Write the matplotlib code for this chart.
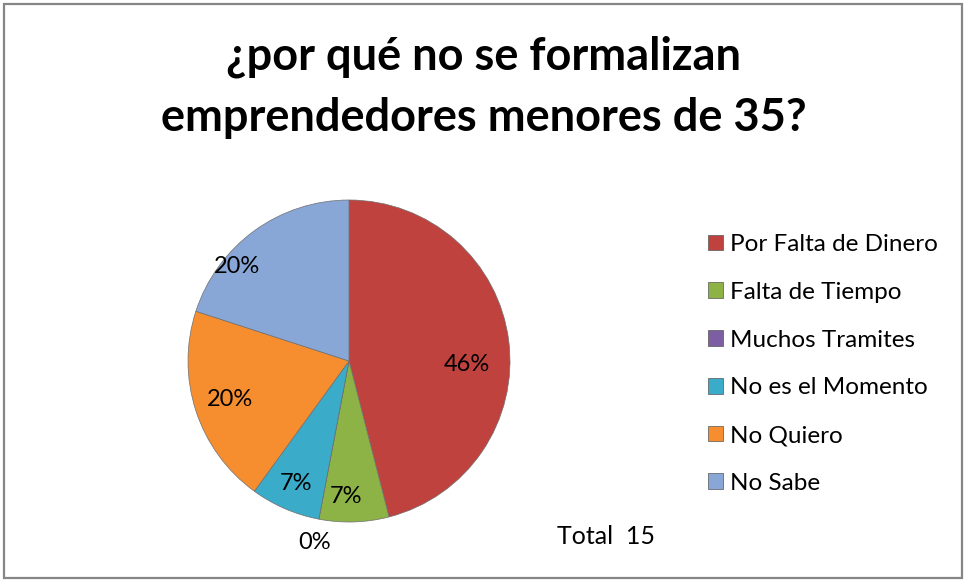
import matplotlib.pyplot as plt
from matplotlib.patches import Rectangle, Patch
import numpy as np

categories = ['Por Falta de Dinero', 'Falta de Tiempo', 'Muchos Tramites',
              'No es el Momento', 'No Quiero', 'No Sabe']
percentages = [46, 7, 0, 7, 20, 20]
total_label = 'Total  15'
title = '¿por qué no se formalizan\nemprendedores menores de 35?'

colors = ['#BF423E', '#8DB246', '#7D5EA3', '#3AABC8', '#F68E2F', '#88A6D6']
# label radius (fraction of pie radius) and angular nudge, per slice
label_r = [0.73, 0.84, 1.15, 0.83, 0.78, 0.91]
label_shift = [-9, -3, 0, 0, 0, 14]

plt.rcParams['font.family'] = ['Lato', 'DejaVu Sans']

fig = plt.figure(figsize=(9.64, 5.8), dpi=100)
fig.patches.append(Rectangle((3.5 / 964, 2.5 / 580), 958 / 964, 574 / 580,
                             transform=fig.transFigure, fill=False,
                             edgecolor='#868686', linewidth=1.6))

fig.text(484 / 964, 1 - 87 / 580, title, ha='center', va='center',
         fontsize=32.5, fontweight='bold', linespacing=1.55)

cx, cy, r = 349, 361, 161
ax = fig.add_axes([(cx - r) / 964, (580 - cy - r) / 580, 2 * r / 964, 2 * r / 580])
wedges, _ = ax.pie(percentages, colors=colors, startangle=90, counterclock=False,
                   radius=1, wedgeprops=dict(edgecolor='#6f6f6f', linewidth=0.5))
ax.set_xlim(-1, 1)
ax.set_ylim(-1, 1)
ax.set_aspect('equal')
ax.axis('off')

for w, p, rr, sh in zip(wedges, percentages, label_r, label_shift):
    ang = np.deg2rad((w.theta1 + w.theta2) / 2 + sh)
    ax.text(rr * np.cos(ang), rr * np.sin(ang), f'{p}%', ha='center', va='center',
            fontsize=17, clip_on=False)

handles = [Patch(facecolor=c, edgecolor='#555555', linewidth=0.5) for c in colors]
fig.legend(handles, categories, loc='upper left',
           bbox_to_anchor=(696 / 964, 1 - 222 / 580), frameon=False,
           fontsize=17.5, handlelength=0.62, handleheight=0.62, handletextpad=0.28,
           labelspacing=1.1, borderpad=0)

fig.text(557 / 964, 1 - 537 / 580, total_label, ha='left', va='center', fontsize=18)

fig.savefig('out.png', dpi=100)
